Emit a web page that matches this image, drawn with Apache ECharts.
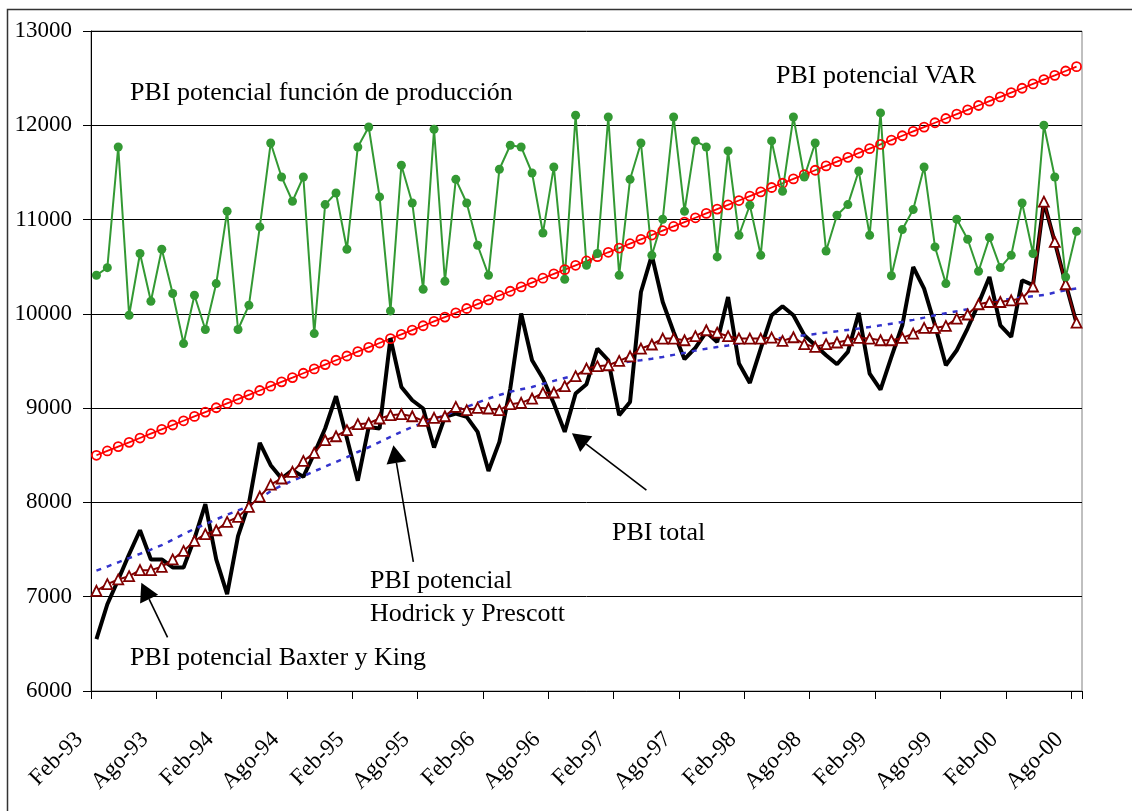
<!DOCTYPE html>
<html>
<head>
<meta charset="utf-8">
<script src="https://cdn.jsdelivr.net/npm/echarts@6/dist/echarts.min.js"></script>
<style>
html, body { margin: 0; padding: 0; background: #fff; }
#chart { width: 1132px; height: 811px; }
</style>
</head>
<body>
<div id="chart"></div>
<script>
const FONT = 'Liberation Serif'

// meses Feb-93 ... Ago-00
const nombresMes = ['Ene', 'Feb', 'Mar', 'Abr', 'May', 'Jun', 'Jul', 'Ago', 'Sep', 'Oct', 'Nov', 'Dic']
const meses = []
for (let k = 0; k < 91; k++) {
  const m = (1 + k) % 12
  const a = (93 + Math.floor((1 + k) / 12)) % 100
  meses.push(nombresMes[m] + '-' + String(a).padStart(2, '0'))
}

const yTicks = [6000, 13000, 1000] // min, max, paso

const pbiTotal = [
  6550, 6920, 7180, 7450, 7705, 7395, 7395, 7310, 7310, 7617,
  7981, 7395, 7027, 7642, 7988, 8631, 8395, 8254, 8342, 8271,
  8519, 8784, 9126, 8680, 8231, 8801, 8784, 9741, 9225, 9084,
  8996, 8582, 8907, 8943, 8907, 8748, 8334, 8642, 9208, 10003,
  9508, 9314, 9049, 8748, 9155, 9254, 9632, 9508, 8925, 9066,
  10232, 10620, 10126, 9808, 9519, 9640, 9808, 9702, 10179, 9473,
  9267, 9632, 9985, 10081, 9985, 9773, 9667, 9561, 9466, 9596,
  10010, 9367, 9197, 9543, 9879, 10497, 10268, 9879, 9455, 9614,
  9847, 10109, 10391, 9879, 9755, 10356, 10305, 11190, 10763, 10321,
  9900
]

const funcionProduccion = [
  10410, 10490, 11770, 9985, 10640, 10134, 10685, 10216, 9685, 10197,
  9834, 10321, 11088, 9834, 10091, 10922, 11812, 11452, 11194, 11452,
  9791, 11159, 11282, 10685, 11770, 11982, 11240, 10031, 11576, 11176,
  10261, 11958, 10346, 11427, 11176, 10728, 10410, 11534, 11788, 11770,
  11494, 10858, 11558, 10367, 12106, 10515, 10640, 12088, 10410, 11427,
  11812, 10622, 11003, 12088, 11088, 11834, 11770, 10604, 11728, 10834,
  11152, 10622, 11834, 11300, 12088, 11452, 11812, 10667, 11046, 11159,
  11515, 10834, 12131, 10404, 10894, 11106, 11558, 10710, 10321, 11003,
  10791, 10452, 10809, 10491, 10622, 11176, 10640, 12000, 11452, 10391,
  10876
]

const potencialVAR = [
  8500, 8546, 8592, 8637, 8683, 8729, 8775, 8821, 8866, 8912,
  8958, 9004, 9050, 9095, 9141, 9187, 9233, 9279, 9324, 9370,
  9416, 9462, 9508, 9553, 9599, 9645, 9691, 9737, 9782, 9828,
  9874, 9920, 9966, 10011, 10057, 10103, 10149, 10195, 10240, 10286,
  10332, 10378, 10424, 10469, 10515, 10561, 10607, 10653, 10698, 10744,
  10790, 10836, 10882, 10927, 10973, 11019, 11065, 11111, 11156, 11202,
  11248, 11294, 11340, 11385, 11431, 11477, 11523, 11569, 11614, 11660,
  11706, 11752, 11798, 11843, 11889, 11935, 11981, 12027, 12072, 12118,
  12164, 12210, 12256, 12301, 12347, 12393, 12439, 12485, 12530, 12576,
  12622
]

const hodrickPrescott = [
  7277, 7320, 7365, 7410, 7455, 7500, 7547, 7605, 7663, 7720,
  7770, 7820, 7870, 7915, 7960, 8040, 8120, 8180, 8230, 8278,
  8330, 8380, 8430, 8480, 8535, 8585, 8640, 8695, 8750, 8800,
  8845, 8885, 8925, 8970, 9013, 9058, 9102, 9140, 9173, 9200,
  9225, 9257, 9289, 9320, 9349, 9375, 9402, 9440, 9480, 9495,
  9508, 9525, 9543, 9565, 9586, 9610, 9630, 9648, 9665, 9685,
  9705, 9720, 9733, 9746, 9760, 9773, 9787, 9801, 9815, 9830,
  9845, 9861, 9878, 9896, 9914, 9936, 9960, 9985, 10006, 10027,
  10049, 10080, 10112, 10144, 10160, 10175, 10187, 10200, 10226, 10250,
  10270
]

const baxterKing = [
  7062, 7133, 7183, 7218, 7282, 7282, 7317, 7395, 7486, 7592,
  7663, 7705, 7793, 7846, 7952, 8062, 8188, 8254, 8324, 8440,
  8525, 8660, 8702, 8766, 8830, 8840, 8890, 8925, 8936, 8914,
  8865, 8897, 8914, 9013, 8978, 9003, 8996, 8978, 9042, 9056,
  9102, 9162, 9166, 9233, 9339, 9420, 9445, 9455, 9501, 9550,
  9632, 9675, 9738, 9738, 9720, 9763, 9826, 9800, 9763, 9738,
  9738, 9738, 9748, 9713, 9752, 9678, 9650, 9678, 9696, 9720,
  9745, 9738, 9720, 9720, 9745, 9791, 9851, 9851, 9872, 9950,
  9993, 10102, 10126, 10126, 10144, 10162, 10290, 11190, 10763, 10314,
  9906
]

// rótulos dentro del gráfico (posición en píxeles: izquierda, línea base)
const rotulos = [
  { texto: 'PBI potencial función de producción', x: 130, y: 100 },
  { texto: 'PBI potencial VAR', x: 776, y: 83 },
  { texto: 'PBI total', x: 612, y: 540 },
  { texto: 'PBI potencial', x: 370, y: 588 },
  { texto: 'Hodrick y Prescott', x: 370, y: 621 },
  { texto: 'PBI potencial Baxter y King', x: 130, y: 665 }
]

// flechas en coordenadas de datos [índice de mes, valor]
const flechas = [
  { desde: [50.5, 8130], hasta: [43.66, 8734] },
  { desde: [29.1, 7369], hasta: [27.27, 8607] },
  { desde: [6.53, 6568], hasta: [4.12, 7147] }
]

let chart = echarts.init(document.getElementById('chart'))

let option = {
  animation: false,
  grid: {
    left: 91,
    right: 50,
    top: 31,
    bottom: 120,
    show: true,
    borderColor: '#808080',
    borderWidth: 1
  },
  xAxis: {
    type: 'category',
    boundaryGap: true,
    data: meses,
    axisLine: { lineStyle: { color: '#000', width: 1 } },
    axisTick: { show: true, interval: 5, length: 8, lineStyle: { color: '#000' } },
    axisLabel: {
      interval: 5,
      rotate: 45,
      margin: 28,
      fontFamily: FONT,
      fontSize: 23,
      color: '#000',
      // relleno invisible al final para correr el texto hacia abajo y a la izquierda
      formatter: v => v + '{s|ooo}',
      rich: { s: { color: 'rgba(255,255,255,0)', fontSize: 16, fontFamily: FONT } }
    },
    splitLine: { show: false }
  },
  yAxis: {
    type: 'value',
    min: yTicks[0],
    max: yTicks[1],
    interval: yTicks[2],
    axisLine: { show: true, lineStyle: { color: '#000', width: 1 } },
    axisTick: { show: true, length: 8, lineStyle: { color: '#000' } },
    axisLabel: {
      margin: 19,
      fontFamily: FONT,
      fontSize: 23,
      color: '#000',
      formatter: v => String(v)
    },
    splitLine: { show: true, lineStyle: { color: '#000', width: 1 } }
  },
  series: [
    {
      name: 'PBI potencial VAR',
      type: 'line',
      data: potencialVAR,
      symbol: 'circle',
      symbolSize: 9,
      showAllSymbol: true,
      lineStyle: { color: '#ff0000', width: 1.8 },
      itemStyle: { color: 'rgba(0,0,0,0)', borderColor: '#ff0000', borderWidth: 1.8 }
    },
    {
      name: 'PBI total',
      type: 'line',
      data: pbiTotal,
      symbol: 'none',
      lineStyle: { color: '#000', width: 4 },
      itemStyle: { color: '#000' }
    },
    {
      name: 'PBI potencial Hodrick y Prescott',
      type: 'line',
      data: hodrickPrescott,
      symbol: 'none',
      lineStyle: { color: '#3333cc', width: 2.5, type: [5, 6] },
      itemStyle: { color: '#3333cc' }
    },
    {
      name: 'PBI potencial Baxter y King',
      type: 'line',
      data: baxterKing,
      symbol: 'triangle',
      symbolSize: 10,
      showAllSymbol: true,
      lineStyle: { color: '#800000', width: 2 },
      itemStyle: { color: '#fff', borderColor: '#800000', borderWidth: 1.8 }
    },
    {
      name: 'PBI potencial función de producción',
      type: 'line',
      data: funcionProduccion,
      symbol: 'circle',
      symbolSize: 9,
      showAllSymbol: true,
      lineStyle: { color: '#339933', width: 2 },
      itemStyle: { color: '#339933' }
    }
  ]
}
chart.setOption(option)

// posición en píxeles para un índice de mes fraccionario
function aPixel(p) {
  const a = chart.convertToPixel({ gridIndex: 0 }, [0, p[1]])
  const b = chart.convertToPixel({ gridIndex: 0 }, [1, p[1]])
  return [a[0] + (b[0] - a[0]) * p[0], a[1]]
}

function dibujarFlecha(f) {
  const p0 = aPixel(f.desde)
  const p1 = aPixel(f.hasta)
  const dx = p1[0] - p0[0], dy = p1[1] - p0[1]
  const len = Math.hypot(dx, dy)
  const ux = dx / len, uy = dy / len
  const bx = p1[0] - ux * 18, by = p1[1] - uy * 18
  return [
    { type: 'line', z: 50, shape: { x1: p0[0], y1: p0[1], x2: bx, y2: by }, style: { stroke: '#000', lineWidth: 1.6 } },
    { type: 'polygon', z: 50, shape: { points: [p1, [bx - uy * 10, by + ux * 10], [bx + uy * 10, by - ux * 10]] }, style: { fill: '#000' } }
  ]
}

let graficos = [
  { type: 'rect', z: 50, shape: { x: 7.5, y: 9.5, width: 1300, height: 1000 }, style: { fill: 'none', stroke: '#333', lineWidth: 1.5 } }
]
rotulos.forEach(r => {
  graficos.push({
    type: 'text', z: 50, x: r.x, y: r.y + 6,
    style: { text: r.texto, font: '26px "Liberation Serif"', fill: '#000', verticalAlign: 'bottom' }
  })
})
flechas.forEach(f => { graficos = graficos.concat(dibujarFlecha(f)) })

chart.setOption({ graphic: graficos })
</script>
</body>
</html>
